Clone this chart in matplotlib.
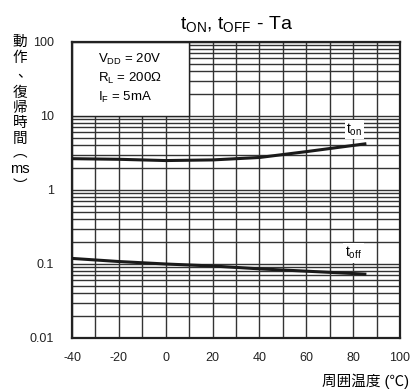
import matplotlib.pyplot as plt
from matplotlib.patches import Rectangle
from matplotlib.ticker import LogLocator, NullFormatter, FixedLocator

plt.rcParams['font.family'] = ['Liberation Sans', 'Noto Sans CJK JP', 'DejaVu Sans']
plt.rcParams['mathtext.fontset'] = 'custom'
plt.rcParams['mathtext.rm'] = 'Liberation Sans'
plt.rcParams['mathtext.it'] = 'Liberation Sans'
plt.rcParams['axes.unicode_minus'] = False

# data
temp = [-40, -20, 0, 20, 40, 60, 85]
t_on = [2.65, 2.6, 2.5, 2.55, 2.75, 3.3, 4.2]
t_off = [0.119, 0.108, 0.100, 0.094, 0.086, 0.080, 0.073]

x_ticks = [-40, -20, 0, 20, 40, 60, 80, 100]
y_ticks = [0.01, 0.1, 1, 10, 100]
y_ticklabels = ["0.01", "0.1", "1", "10", "100"]
conditions = [r"V$_{\rm DD}$ = 20V", r"R$_{\rm L}$ = 200Ω", r"I$_{\rm F}$ = 5mA"]
ylabel_chars = ["動", "作", "、", "復", "帰", "時", "間", "︵", "ms", "︶"]

fig = plt.figure(figsize=(4.13, 3.91), dpi=100)
ax = fig.add_axes([72 / 413, 1 - 338 / 391, 328 / 413, 296 / 391])

ax.set_yscale('log')
ax.set_xlim(-40, 100)
ax.set_ylim(0.01, 100)
ax.set_axisbelow(True)

ax.xaxis.set_major_locator(FixedLocator(x_ticks))
ax.xaxis.set_minor_locator(FixedLocator(range(-30, 100, 20)))
ax.yaxis.set_major_locator(FixedLocator(y_ticks))
ax.yaxis.set_minor_locator(LogLocator(base=10, subs=range(2, 10)))
ax.yaxis.set_minor_formatter(NullFormatter())
ax.set_yticklabels(y_ticklabels)
ax.tick_params(which='both', length=0, labelsize=9, colors='#222222')
ax.tick_params(axis='x', pad=10)
ax.tick_params(axis='y', pad=13)

ax.grid(True, which='both', color='#333333', linewidth=1.0)
for s in ax.spines.values():
    s.set_linewidth(1.6)
    s.set_color('#222222')

# condition box covering the grid
ax.add_patch(Rectangle((-40, 10), 50, 90, facecolor='white', edgecolor='#222222',
                       linewidth=1.0, zorder=1.5))
for i, t in enumerate(conditions):
    ax.text(-29, 10 ** (1.77 - 0.26 * i), t, fontsize=9.5, va='center', ha='left', zorder=3)

ax.plot(temp, t_on, color='#1a1a1a', linewidth=2.2, zorder=3)
ax.plot(temp, t_off, color='#1a1a1a', linewidth=2.2, zorder=3)

ax.text(80.5, 6.6, r"t$_{\rm on}$", fontsize=10, ha='center', va='center', zorder=3,
        bbox=dict(facecolor='white', edgecolor='none', pad=1))
ax.text(80, 0.14, r"t$_{\rm off}$", fontsize=10, ha='center', va='center', zorder=3,
        bbox=dict(facecolor='white', edgecolor='none', pad=1.5))

fig.text(236 / 413, 1 - 24 / 391, r"t$_{\rm ON}$, t$_{\rm OFF}$ - Ta", fontsize=14,
         ha='center', va='center')

y_px = [42, 58, 73, 93, 108, 123, 139, 152, 169, 186]
x_px = [20, 20, 25, 20, 20, 20, 20, 20, 20, 20]
for ch, xp, yp in zip(ylabel_chars, x_px, y_px):
    fig.text(xp / 413, 1 - yp / 391, ch, fontsize=10.5, ha='center', va='center')

fig.text(322 / 413, 1 - 381 / 391, "周囲温度 (℃)", fontsize=10.5, ha='left', va='center')

fig.savefig("out.png", dpi=100)
